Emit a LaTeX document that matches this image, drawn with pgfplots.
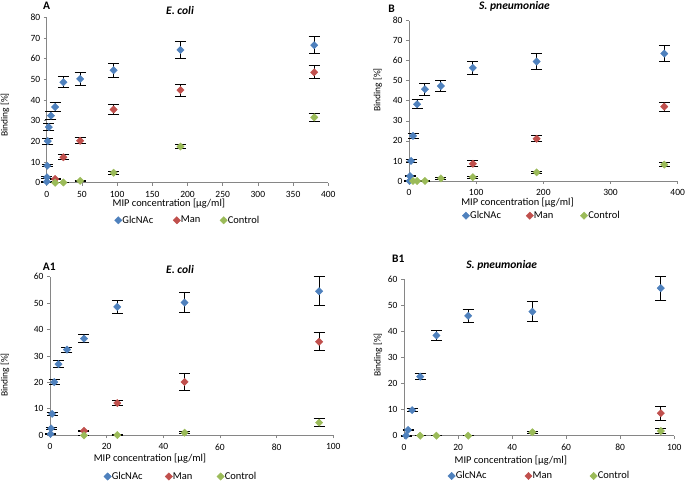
\documentclass[border=0pt]{standalone}
\usepackage{pgfplots}
\pgfplotsset{compat=1.18}
\usepackage{fontspec}
\setmainfont{Carlito}
\definecolor{cA}{HTML}{4F81BD}
\definecolor{cB}{HTML}{C0504D}
\definecolor{cC}{HTML}{9BBB59}
\definecolor{axg}{HTML}{868686}
\newcommand{\gap}[1]{\rule{#1}{0pt}}
\pgfplotsset{
 panel/.style={scale only axis, anchor=south west, axis lines=left,
   axis line style={axg, line width=0.75bp, -},
   tick style={axg, line width=0.75bp}, tick align=outside, major tick length=3bp,
   xmin=0, ymin=0,
   tick label style={font=\fontsize{9.5bp}{11bp}\selectfont, black},
   xticklabel style={yshift=-2bp},
   /pgf/number format/assume math mode=true,
   legend columns=3,
   legend style={draw=none, fill=none, inner sep=0pt, outer sep=0pt, anchor=west,
     nodes={inner sep=0.5bp},
     font=\fontsize{10.5bp}{12bp}\selectfont},
   legend image code/.code={\draw[##1] plot coordinates {(0bp,0bp)};},
   clip=false},
 ser/.style={only marks, mark=square*, mark size=2.6bp,
   mark options={rotate=45, fill=#1, draw=#1}},
 err/.style={forget plot, only marks, mark=none,
   error bars/.cd, y dir=both, y explicit, error mark=|,
   error bar style={black, line width=1bp},
   error mark options={black, line width=1bp, mark size=5.5bp}}
}
\begin{document}
\begin{tikzpicture}
\path[use as bounding box] (0,0) rectangle (685bp,482bp);
% ---------- Panel A ----------
\begin{axis}[panel, at={(46.7bp,299.3bp)}, width=281.6bp, height=165.4bp,
  xmax=400, ymax=80, xtick={0,50,...,400}, ytick={0,10,...,80},
  legend style={at={(0.2411,-0.2273)}}]
\addplot[err] coordinates {
 (0.1875,0.5) +- (0,0.3) (0.375,2.6) +- (0,0.4) (0.75,8.2) +- (0,0.6)
 (1.5,20.1) +- (0,1.4) (3,26.9) +- (0,1.5) (6,32.4) +- (0,1.9)
 (12,36.6) +- (0,2.4) (23.75,48.6) +- (0,2.7) (47.5,50.2) +- (0,3.0)
 (95,54.4) +- (0,3.3) (190,64.2) +- (0,3.9) (380,66.5) +- (0,4.0)};
\addplot[err] coordinates {
 (12,1.8) +- (0,0.3) (23.75,12.3) +- (0,1.2) (47.5,20.3) +- (0,1.4)
 (95,35.4) +- (0,2.4) (190,44.8) +- (0,2.9) (380,53.4) +- (0,3.2)};
\addplot[err] coordinates {
 (12,0) +- (0,0.1) (23.75,0.1) +- (0,0.1) (47.5,0.9) +- (0,0.3)
 (95,4.8) +- (0,0.8) (190,17.5) +- (0,1.1) (380,31.6) +- (0,2.0)};
\addplot[ser=cA] coordinates {
 (0.1875,0.5) (0.375,2.6) (0.75,8.2) (1.5,20.1) (3,26.9) (6,32.4)
 (12,36.6) (23.75,48.6) (47.5,50.2) (95,54.4) (190,64.2) (380,66.5)};
\addplot[ser=cB] coordinates {
 (12,1.8) (23.75,12.3) (47.5,20.3) (95,35.4) (190,44.8) (380,53.4)};
\addplot[ser=cC] coordinates {
 (12,0) (23.75,0.1) (47.5,0.9) (95,4.8) (190,17.5) (380,31.6)};
\legend{GlcNAc\gap{19.4bp},Man\gap{19bp},Control}
\end{axis}
% ---------- Panel B ----------
\begin{axis}[panel, at={(409bp,301bp)}, width=268.7bp, height=160.3bp,
  xmax=400, ymax=80, xtick={0,100,...,400}, ytick={0,10,...,80},
  legend style={at={(0.1984,-0.2165)}}]
\addplot[err] coordinates {
 (0.75,0) +- (0,0.2) (1.5,2.4) +- (0,0.3) (3,10.0) +- (0,0.6)
 (6,22.5) +- (0,1.2) (12,38.3) +- (0,2.3) (23.75,45.8) +- (0,2.9)
 (47.5,47.4) +- (0,2.9) (95,56.5) +- (0,3.3) (190,59.6) +- (0,3.8)
 (380,63.6) +- (0,4.1)};
\addplot[err] coordinates {
 (95,8.6) +- (0,1.6) (190,21.1) +- (0,1.4) (380,37.1) +- (0,2.3)};
\addplot[err] coordinates {
 (6,0) +- (0,0.1) (12,0) +- (0,0.1) (23.75,0) +- (0,0.1) (47.5,1.3) +- (0,0.5)
 (95,1.9) +- (0,0.5) (190,4.3) +- (0,0.6) (380,8.2) +- (0,0.8)};
\addplot[ser=cA] coordinates {
 (0.75,0) (1.5,2.4) (3,10.0) (6,22.5) (12,38.3) (23.75,45.8)
 (47.5,47.4) (95,56.5) (190,59.6) (380,63.6)};
\addplot[ser=cB] coordinates {(95,8.6) (190,21.1) (380,37.1)};
\addplot[ser=cC] coordinates {
 (6,0) (12,0) (23.75,0) (47.5,1.3) (95,1.9) (190,4.3) (380,8.2)};
\legend{GlcNAc\gap{24.7bp},Man\gap{26.4bp},Control}
\end{axis}
% ---------- Panel A1 ----------
\begin{axis}[panel, at={(50bp,46.7bp)}, width=283.3bp, height=158.6bp,
  xmax=100, ymax=60, xtick={0,20,...,100}, ytick={0,10,...,60},
  legend style={at={(0.1903,-0.2598)}}]
\addplot[err] coordinates {
 (0.1875,0.5) +- (0,0.3) (0.375,2.6) +- (0,0.4) (0.75,8.1) +- (0,0.6)
 (1.5,20.1) +- (0,0.9) (3,26.9) +- (0,1.3) (6,32.4) +- (0,0.9)
 (12,36.6) +- (0,1.4) (23.75,48.6) +- (0,2.4) (47.5,50.2) +- (0,3.9)
 (95,54.5) +- (0,5.5)};
\addplot[err] coordinates {
 (12,1.7) +- (0,0.3) (23.75,12.2) +- (0,1.1) (47.5,20.2) +- (0,3.2)
 (95,35.4) +- (0,3.5)};
\addplot[err] coordinates {
 (12,0) +- (0,0.1) (23.75,0.1) +- (0,0.1) (47.5,1.0) +- (0,0.3)
 (95,4.8) +- (0,1.5)};
\addplot[ser=cA] coordinates {
 (0.1875,0.5) (0.375,2.6) (0.75,8.1) (1.5,20.1) (3,26.9) (6,32.4)
 (12,36.6) (23.75,48.6) (47.5,50.2) (95,54.5)};
\addplot[ser=cB] coordinates {(12,1.7) (23.75,12.2) (47.5,20.2) (95,35.4)};
\addplot[ser=cC] coordinates {(12,0) (23.75,0.1) (47.5,1.0) (95,4.8)};
\legend{GlcNAc\gap{22.1bp},Man\gap{24bp},Control}
\end{axis}
% ---------- Panel B1 ----------
\begin{axis}[panel, at={(404bp,46.3bp)}, width=270.3bp, height=156.7bp,
  xmax=100, ymax=60, xtick={0,20,...,100}, ytick={0,10,...,60},
  legend style={at={(0.1624,-0.2572)}}]
\addplot[err] coordinates {
 (0.75,0) +- (0,0.2) (1.5,2.2) +- (0,0.3) (3,9.8) +- (0,0.6)
 (6,22.6) +- (0,1.2) (12,38.4) +- (0,2.0) (23.75,45.9) +- (0,2.4)
 (47.5,47.5) +- (0,3.8) (95,56.5) +- (0,4.6)};
\addplot[err] coordinates {(95,8.6) +- (0,2.6)};
\addplot[err] coordinates {
 (6,0) +- (0,0.1) (12,0) +- (0,0.1) (23.75,0) +- (0,0.1) (47.5,1.3) +- (0,0.4)
 (95,1.8) +- (0,1.0)};
\addplot[ser=cA] coordinates {
 (0.75,0) (1.5,2.2) (3,9.8) (6,22.6) (12,38.4) (23.75,45.9) (47.5,47.5) (95,56.5)};
\addplot[ser=cB] coordinates {(95,8.6)};
\addplot[ser=cC] coordinates {(6,0) (12,0) (23.75,0) (47.5,1.3) (95,1.8)};
\legend{GlcNAc\gap{37.8bp},Man\gap{37.3bp},Control}
\end{axis}
% ---------- texts ----------
\begin{scope}[every node/.style={inner sep=0pt}]
\node[font=\fontsize{11.5bp}{13bp}\selectfont\bfseries] at (46.7bp,476bp) {A};
\node[font=\fontsize{11.5bp}{13bp}\selectfont\bfseries] at (391.7bp,473.7bp) {B};
\node[font=\fontsize{11.5bp}{13bp}\selectfont\bfseries] at (49.3bp,215.3bp) {A1};
\node[font=\fontsize{11.5bp}{13bp}\selectfont\bfseries] at (398.3bp,223bp) {B1};
\node[font=\fontsize{11.5bp}{13bp}\selectfont\bfseries\itshape] at (180bp,471.3bp) {E. coli};
\node[font=\fontsize{11.5bp}{13bp}\selectfont\bfseries\itshape] at (514.5bp,475.3bp) {S. pneumoniae};
\node[font=\fontsize{11.5bp}{13bp}\selectfont\bfseries\itshape] at (180bp,212.7bp) {E. coli};
\node[font=\fontsize{11.5bp}{13bp}\selectfont\bfseries\itshape] at (501.7bp,216.3bp) {S. pneumoniae};
\node[font=\fontsize{10.4bp}{12bp}\selectfont] at (168.9bp,278.7bp) {MIP concentration [µg/ml]};
\node[font=\fontsize{10.4bp}{12bp}\selectfont] at (517.5bp,279.5bp) {MIP concentration [µg/ml]};
\node[font=\fontsize{10.4bp}{12bp}\selectfont] at (150bp,23.7bp) {MIP concentration [µg/ml]};
\node[font=\fontsize{10.4bp}{12bp}\selectfont] at (510.8bp,21bp) {MIP concentration [µg/ml]};
\node[font=\fontsize{9.5bp}{11bp}\selectfont, rotate=90] at (5bp,367bp) {Binding [\%]};
\node[font=\fontsize{9.5bp}{11bp}\selectfont, rotate=90] at (377.7bp,392bp) {Binding [\%]};
\node[font=\fontsize{9.5bp}{11bp}\selectfont, rotate=90] at (5bp,107bp) {Binding [\%]};
\node[font=\fontsize{9.5bp}{11bp}\selectfont, rotate=90] at (378bp,127bp) {Binding [\%]};
\end{scope}
\end{tikzpicture}
\end{document}
